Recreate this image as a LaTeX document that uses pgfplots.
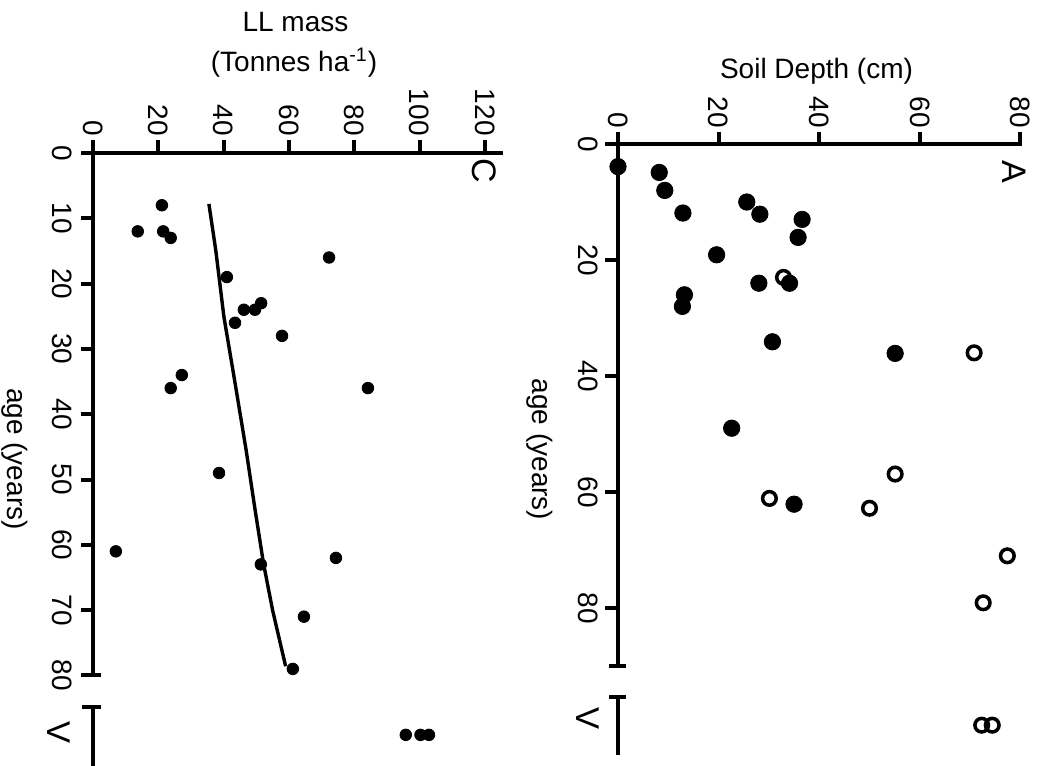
\documentclass[border=0pt]{standalone}
\usepackage{fontspec}
\setmainfont{Liberation Sans}
\usepackage{pgfplots}
\usepackage{pgfplotstable}
\pgfplotsset{compat=1.18}

% Panel C: LL mass vs age
\pgfplotstableread{
mass age
21.1 8
13.7 12
21.5 12
23.8 13
72.3 16
41.0 19
51.5 23
46.2 24
49.6 24
43.5 26
57.9 28
27.2 34
23.8 36
84.2 36
38.6 49
7.0 61
74.4 62
51.4 63
64.6 71
61.2 79
}\Cdata
% V (category) plotted on the broken part of the axis
\pgfplotstableread{
mass age
95.8 89.1
100.3 89.1
102.9 89.1
}\CVdata
\pgfplotstableread{
age mass
7.8 35.5
14.9 37.6
25.1 40.1
35.2 43.5
45.5 46.9
54.5 49.6
62.8 52.2
70.0 55.0
78.6 59.0
}\Cfit

% Panel A: soil depth vs age
\pgfplotstableread{
depth age
0 3.9
8.2 4.9
9.3 8.0
12.9 11.9
25.6 10.0
28.2 12.1
36.6 13.0
35.8 16.1
19.6 19.1
28.0 24.0
34.1 24.0
13.2 26.0
12.8 28.0
30.7 34.1
55.1 36.1
22.6 49.0
35.0 62.1
}\Afilled
\pgfplotstableread{
depth age
32.9 23.0
70.8 36.0
55.1 56.9
30.1 61.1
50.0 62.8
77.4 71.0
72.6 79.1
72.3 100.2
74.4 100.2
}\Aopen

\begin{document}
\begin{tikzpicture}[font=\fontsize{14}{16.8}\selectfont]
\useasboundingbox (0,0) rectangle (523.5pt,-382.5pt);

% ---------------- Panel C ----------------
\begin{axis}[at={(46.5pt,-76.5pt)}, anchor=north west,
  x=1.6325pt, y=3.265pt, xmin=0, xmax=126, ymin=0, ymax=94,
  y dir=reverse, hide axis, clip=false]
\addplot[no marks, line width=1.7pt, black] table[x=mass,y=age]{\Cfit};
\addplot[only marks, mark=*, mark size=2.9pt, mark options={draw=none, fill=black}] table[x=mass,y=age]{\Cdata};
\addplot[only marks, mark=*, mark size=2.9pt, mark options={draw=none, fill=black}] table[x=mass,y=age]{\CVdata};
% axes
\draw[line width=2pt] (axis cs:0,0) -- (axis cs:125.6,0);
\draw[line width=2pt] (axis cs:0,0) -- (axis cs:0,80);
\draw[line width=2pt] ([xshift=-5.5pt]axis cs:0,80) -- ([xshift=4pt]axis cs:0,80);
\draw[line width=2pt] (axis cs:0,84.8) -- (axis cs:0,94);
\draw[line width=2pt] ([xshift=-5.5pt]axis cs:0,84.8) -- ([xshift=4pt]axis cs:0,84.8);
\pgfplotsinvokeforeach{0,20,...,120}{
  \draw[line width=2pt] (axis cs:#1,0) -- ++(0,6.5pt);
  \node[rotate=-90, anchor=east, inner sep=0pt] at ([yshift=8.5pt]axis cs:#1,0) {#1};
}
\pgfplotsinvokeforeach{0,10,...,80}{
  \draw[line width=2pt] (axis cs:0,#1) -- ++(-6pt,0);
  \node[rotate=-90, anchor=north, inner sep=0pt] at ([xshift=-10.5pt]axis cs:0,#1) {#1};
}
\node[rotate=-90, anchor=north, inner sep=0pt, font=\fontsize{16.5}{19}\selectfont] at ([xshift=-11pt]axis cs:0,88.7) {V};
\end{axis}

% ---------------- Panel A ----------------
\begin{axis}[at={(309pt,-72pt)}, anchor=north west,
  x=2.515pt, y=2.9pt, xmin=0, xmax=80.4, ymin=0, ymax=106,
  y dir=reverse, hide axis, clip=false]
\addplot[only marks, mark=*, mark size=4.1pt, mark options={draw=none, fill=black}] table[x=depth,y=age]{\Afilled};
\addplot[only marks, mark=o, mark size=3.4pt, mark options={line width=1.75pt, draw=black, fill=none}] table[x=depth,y=age]{\Aopen};
% axes
\draw[line width=2pt] (axis cs:0,0) -- (axis cs:80.4,0);
\draw[line width=2pt] (axis cs:0,0) -- (axis cs:0,90);
\draw[line width=2pt] ([xshift=-4.5pt]axis cs:0,90) -- ([xshift=4pt]axis cs:0,90);
\draw[line width=2pt] (axis cs:0,95.3) -- (axis cs:0,105.3);
\draw[line width=2pt] ([xshift=-4.5pt]axis cs:0,95.3) -- ([xshift=4pt]axis cs:0,95.3);
\pgfplotsinvokeforeach{0,20,...,80}{
  \draw[line width=2pt] (axis cs:#1,0) -- ++(0,6pt);
  \node[rotate=-90, anchor=east, inner sep=0pt] at ([yshift=8pt]axis cs:#1,0) {#1};
}
\pgfplotsinvokeforeach{0,20,...,80}{
  \draw[line width=2pt] (axis cs:0,#1) -- ++(-6.5pt,0);
  \node[rotate=-90, anchor=north, inner sep=0pt] at ([xshift=-10pt]axis cs:0,#1) {#1};
}
\node[rotate=-90, anchor=north, inner sep=0pt, font=\fontsize{16.5}{19}\selectfont] at ([xshift=-9pt]axis cs:0,99.1) {V};
\end{axis}

% ---------------- titles ----------------
\node[anchor=base, inner sep=0pt] at (147.75pt,-16pt) {LL mass};
\node[anchor=base, inner sep=0pt] at (147pt,-36pt) {(Tonnes ha\textsuperscript{-1})};
\node[anchor=base, inner sep=0pt] at (408.25pt,-39.5pt) {Soil Depth (cm)};
\node[rotate=-90, anchor=north, inner sep=0pt] at (14pt,-229.5pt) {age (years)};
\node[rotate=-90, anchor=north, inner sep=0pt] at (276.5pt,-224.75pt) {age (years)};
\node[rotate=-90, inner sep=0pt, font=\fontsize{17}{20}\selectfont] at (242.25pt,-85.25pt) {C};
\node[rotate=-90, inner sep=0pt, font=\fontsize{17}{20}\selectfont] at (507pt,-85.75pt) {A};
\end{tikzpicture}
\end{document}
